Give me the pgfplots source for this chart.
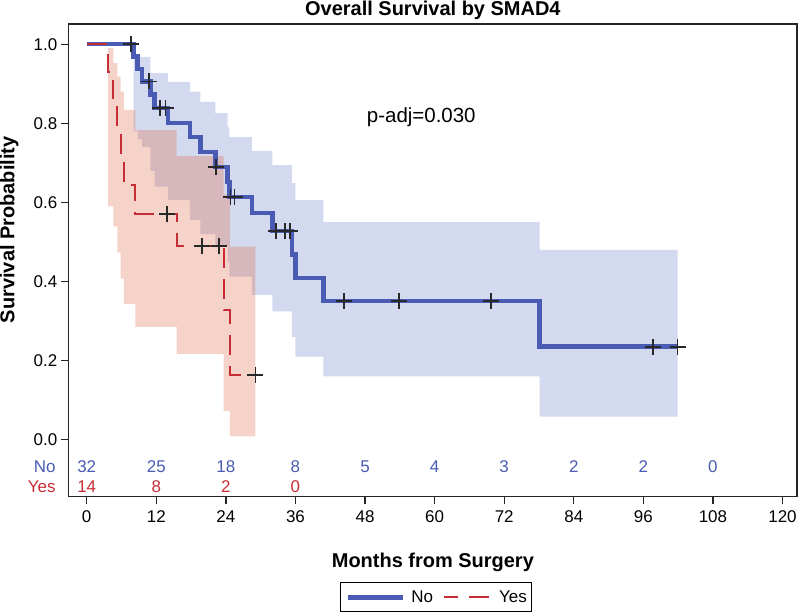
\documentclass[border=0pt]{standalone}
\usepackage{fontspec}
\setmainfont{Liberation Sans}
\usepackage{pgfplots}
\pgfplotsset{compat=1.18}
\usepgfplotslibrary{fillbetween}

\definecolor{kmblue}{RGB}{73,91,178}
\definecolor{kmred}{RGB}{200,44,52}
\definecolor{bandblue}{RGB}{108,128,198}
\definecolor{bandred}{RGB}{225,108,75}
\definecolor{censor}{RGB}{40,40,40}

\newcommand{\tickfont}{\fontsize{17bp}{20bp}\selectfont}
\newcommand{\labfont}{\bfseries\fontsize{20bp}{24bp}\selectfont}

\pgfplotsset{
    leglong/.style={legend image code/.code={\draw[##1] (0bp,0bp) -- (#1,0bp);}},
}

\begin{document}
\begin{tikzpicture}
\begin{axis}[
    at={(0,0)}, anchor=south west,
    scale only axis,
    width=729bp, height=473bp,
    xmin=-3.1, xmax=122.5,
    ymin=-0.144, ymax=1.0513,
    clip=false,
    axis line style={line width=1.3bp, black!85},
    tick style={line width=1.3bp, black!85},
    major tick length=8bp,
    tick align=outside,
    xtick pos=bottom, ytick pos=left,
    xtick={0,12,24,36,48,60,72,84,96,108,120},
    ytick={0,0.2,0.4,0.6,0.8,1},
    tick label style={font=\tickfont},
    xticklabel style={yshift=-3bp},
    /pgf/number format/assume math mode=true,
    yticklabel style={/pgf/number format/.cd, fixed, fixed zerofill, precision=1},
    every axis title shift=0pt,
    title={Overall Survival by SMAD4},
    title style={font=\labfont, at={(axis description cs:0.5,1.0169)}, anchor=base, inner sep=0pt, yshift=0pt},
    xlabel={Months from Surgery},
    xlabel style={font=\labfont, at={(axis description cs:0.5,-0.1501)}, anchor=base, inner sep=0pt},
    ylabel={Survival Probability},
    ylabel style={font=\labfont, at={(axis description cs:-0.0816,0.5645)}, anchor=center, inner sep=0pt},
    legend style={at={(axis description cs:0.5048,-0.2135)}, anchor=center,
        draw=black, line width=1bp, font=\fontsize{17bp}{20bp}\selectfont,
        inner xsep=5bp, inner ysep=8bp,
        nodes={inner sep=0pt},
        /tikz/every odd column/.append style={column sep=6bp},
        /tikz/every even column/.append style={column sep=10bp}},
    legend columns=2,
    legend cell align=left,
]

% confidence band, No
\addplot[name path=bu, const plot, draw=none, forget plot] coordinates {
    (8.1,0.968) (11.0,0.927) (14.0,0.905) (17.8,0.88) (19.6,0.854)
    (22.2,0.826) (24.3,0.79) (24.6,0.765) (28.5,0.73) (32.0,0.694)
    (35.4,0.649) (36.0,0.606) (40.8,0.55) (78.1,0.48) (101.9,0.48)
};
\addplot[name path=bl, const plot, draw=none, forget plot] coordinates {
    (8.1,0.78) (8.8,0.76) (9.5,0.74) (11.0,0.68) (11.7,0.64)
    (14.0,0.606) (17.8,0.556) (19.6,0.52) (22.2,0.49) (24.3,0.45)
    (24.6,0.412) (28.5,0.366) (32.0,0.324) (35.4,0.26) (36.0,0.21)
    (40.8,0.16) (78.1,0.058) (101.9,0.058)
};
\addplot[fill=bandblue, fill opacity=0.3, draw=none, forget plot] fill between[of=bu and bl];

% confidence band, Yes
\addplot[name path=ru, const plot, draw=none, forget plot] coordinates {
    (3.7,0.99) (4.6,0.952) (5.3,0.918) (5.85,0.88) (6.4,0.834)
    (8.4,0.783) (15.5,0.717) (23.6,0.62) (24.7,0.488) (29.1,0.488)
};
\addplot[name path=rl, const plot, draw=none, forget plot] coordinates {
    (3.7,0.59) (4.6,0.539) (5.3,0.473) (5.85,0.407) (6.4,0.343)
    (8.4,0.285) (15.5,0.217) (23.6,0.072) (24.7,0.008) (29.1,0.008)
};
\addplot[fill=bandred, fill opacity=0.3, draw=none, forget plot] fill between[of=ru and rl];

% survival curves
\addplot[kmblue, line width=4.5bp, const plot, leglong=55bp] coordinates {
    (0,1) (8.1,0.969) (8.8,0.938) (9.5,0.906) (11.0,0.873) (11.7,0.839)
    (14.0,0.801) (17.8,0.765) (19.6,0.728) (22.2,0.690) (24.3,0.652)
    (24.6,0.614) (28.5,0.573) (32.0,0.528) (35.4,0.468) (36.0,0.409)
    (40.8,0.35) (78.1,0.235) (101.9,0.235)
};
\addlegendentry{No}
\addplot[kmred, line width=2bp, dash pattern=on 20bp off 11bp, const plot,
    legend image post style={dash phase=6bp}, leglong=48bp] coordinates {
    (0,1) (3.7,0.929) (4.6,0.857) (5.3,0.786) (5.85,0.714) (6.4,0.643)
    (8.4,0.571) (15.5,0.49) (23.6,0.327) (24.7,0.164) (29.1,0.164)
};
\addlegendentry{Yes}

% censored
\addplot[only marks, mark=+, mark size=8bp, mark options={censor, line width=1.8bp}, forget plot] coordinates {
    (7.7,1.0) (10.8,0.906) (12.7,0.839) (13.6,0.839) (22.3,0.690)
    (24.8,0.614) (25.5,0.614) (32.7,0.528) (34.2,0.528) (35.1,0.528)
    (44.4,0.35) (53.9,0.35) (69.7,0.35) (97.6,0.235) (101.9,0.235)
};
\addplot[only marks, mark=+, mark size=8bp, mark options={censor, line width=1.8bp}, forget plot] coordinates {
    (13.9,0.571) (19.9,0.49) (22.8,0.49) (29.1,0.164)
};

% number at risk
\addplot[draw=none, mark=none, forget plot, nodes near coords, point meta=explicit symbolic,
    nodes near coords style={anchor=center, text=kmblue, font=\tickfont}] coordinates {
    (0,-0.068)[32] (12,-0.068)[25] (24,-0.068)[18] (36,-0.068)[8] (48,-0.068)[5]
    (60,-0.068)[4] (72,-0.068)[3] (84,-0.068)[2] (96,-0.068)[2] (108,-0.068)[0]
};
\addplot[draw=none, mark=none, forget plot, nodes near coords, point meta=explicit symbolic,
    nodes near coords style={anchor=center, text=kmred, font=\tickfont}] coordinates {
    (0,-0.119)[14] (12,-0.119)[8] (24,-0.119)[2] (36,-0.119)[0]
};

\node[anchor=east, inner sep=0pt, text=kmblue, font=\tickfont] at (axis description cs:-0.0178,0.0634) {No};
\node[anchor=east, inner sep=0pt, text=kmred, font=\tickfont] at (axis description cs:-0.0178,0.0211) {Yes};
\node[font=\fontsize{20.5bp}{24bp}\selectfont] at (axis cs:57.7,0.816) {p-adj=0.030};
\end{axis}
\path (-68bp,-119bp) rectangle (732bp,497bp);
\end{tikzpicture}
\end{document}
